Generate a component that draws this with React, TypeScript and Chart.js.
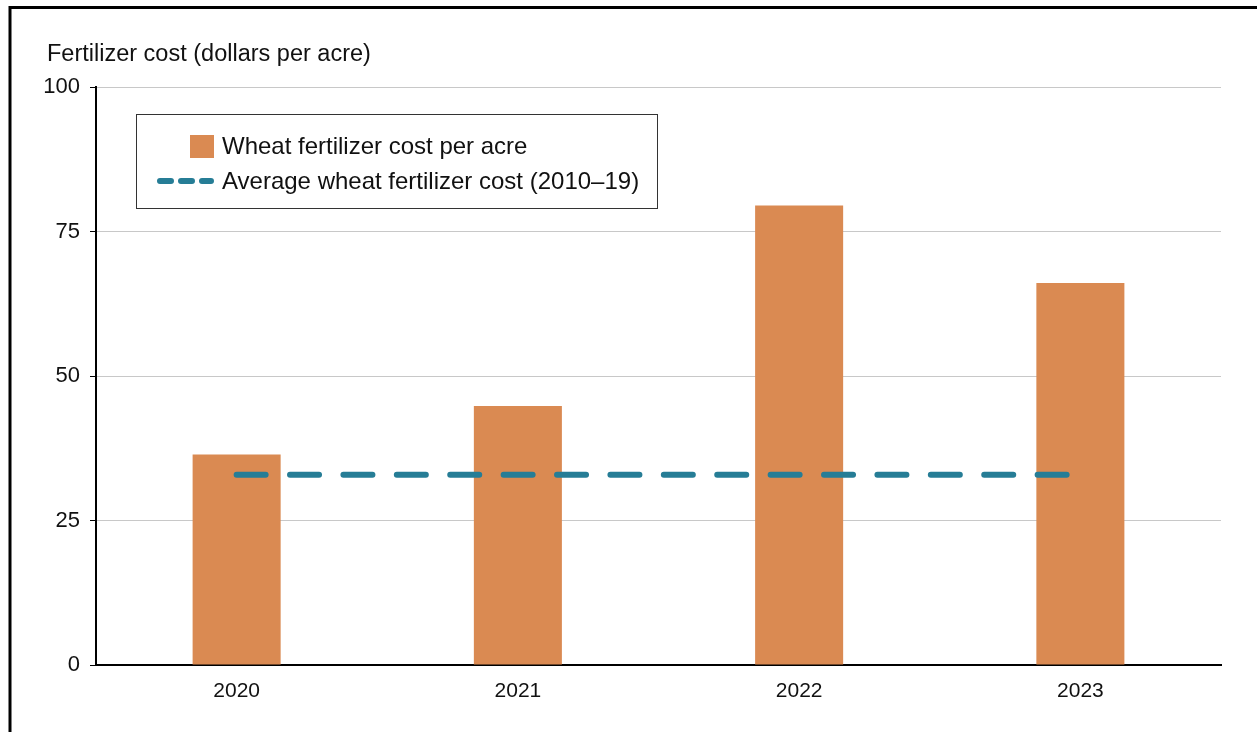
import React, { useEffect, useRef } from "react";
import { Chart, registerables } from "chart.js";

Chart.register(...registerables);

const categories = ["2020", "2021", "2022", "2023"];
const fertilizerCost = [36.4, 44.8, 79.5, 66.1];
const averageCost = [32.9, 32.9, 32.9, 32.9];
const yTicks = [0, 25, 50, 75, 100];
const axisTitle = "Fertilizer cost (dollars per acre)";
const barLabel = "Wheat fertilizer cost per acre";
const lineLabel = "Average wheat fertilizer cost (2010–19)";

const ORANGE = "#DA8A52";
const TEAL = "#267D96";
const FONT = "'Liberation Sans', Arial, sans-serif";

const decorPlugin = {
  id: "decor",
  beforeDraw(chart: any) {
    const ctx = chart.ctx;
    ctx.save();
    ctx.fillStyle = "#fff";
    ctx.fillRect(0, 0, chart.width, chart.height);
    ctx.restore();
  },
  afterDraw(chart: any) {
    const ctx = chart.ctx;
    ctx.save();
    // frame
    ctx.strokeStyle = "#000";
    ctx.lineWidth = 3;
    ctx.beginPath();
    ctx.moveTo(10, chart.height + 10);
    ctx.lineTo(10, 7.5);
    ctx.lineTo(chart.width + 10, 7.5);
    ctx.stroke();

    // axis title
    ctx.fillStyle = "#111";
    ctx.font = `23.5px ${FONT}`;
    ctx.textBaseline = "middle";
    ctx.textAlign = "left";
    ctx.fillText(axisTitle, 47, 55);

    // legend box
    ctx.strokeStyle = "#333";
    ctx.lineWidth = 1;
    ctx.strokeRect(136.5, 114.5, 521, 94);

    const ds = chart.data.datasets;
    ctx.font = `24px ${FONT}`;
    // bar item
    ctx.fillStyle = ds[1].backgroundColor;
    ctx.fillRect(190, 135, 24, 23);
    ctx.fillStyle = "#111";
    ctx.fillText(ds[1].label, 222, 147);
    // line item
    ctx.strokeStyle = ds[0].borderColor;
    ctx.lineWidth = 6;
    ctx.lineCap = "round";
    ctx.setLineDash([11, 10]);
    ctx.beginPath();
    ctx.moveTo(160, 181);
    ctx.lineTo(211, 181);
    ctx.stroke();
    ctx.setLineDash([]);
    ctx.fillText(ds[0].label, 222, 182);
    ctx.restore();
  },
};

export default function App() {
  const ref = useRef<HTMLCanvasElement | null>(null);

  useEffect(() => {
    if (!ref.current) return;
    const chart = new Chart(ref.current, {
      type: "bar",
      data: {
        labels: categories,
        datasets: [
          {
            type: "line",
            label: lineLabel,
            data: averageCost,
            borderColor: TEAL,
            borderWidth: 6,
            borderDash: [29, 24.4],
            borderCapStyle: "round",
            pointRadius: 0,
            fill: false,
            order: 0,
          } as any,
          {
            type: "bar",
            label: barLabel,
            data: fertilizerCost,
            backgroundColor: ORANGE,
            categoryPercentage: 1,
            barPercentage: 0.313,
            order: 1,
          },
        ],
      },
      options: {
        responsive: false,
        animation: false,
        layout: { padding: { left: 0, right: 36, top: 87, bottom: 0 } },
        plugins: {
          legend: { display: false },
          tooltip: { enabled: false },
          title: { display: false },
        },
        scales: {
          x: {
            grid: { display: false, drawTicks: false },
            border: { display: true, color: "#000", width: 2 },
            ticks: {
              color: "#111",
              font: { family: FONT, size: 21 },
              padding: 14,
            },
            afterFit(scale: any) {
              scale.height = 67;
            },
          },
          y: {
            min: 0,
            max: 100,
            afterBuildTicks(scale: any) {
              scale.ticks = yTicks.map((v) => ({ value: v }));
            },
            grid: {
              color: "#C8C8C8",
              lineWidth: 1,
              drawTicks: true,
              tickLength: 6,
              tickColor: "#000",
            },
            border: { display: true, color: "#000", width: 2 },
            ticks: {
              color: "#111",
              font: { family: FONT, size: 22 },
              padding: 10,
            },
            afterFit(scale: any) {
              scale.width = 96;
            },
          },
        },
      },
      plugins: [decorPlugin],
    });
    return () => chart.destroy();
  }, []);

  return (
    <div style={{ position: "fixed", left: 0, top: 0, width: 1257, height: 732 }}>
      <canvas ref={ref} width={1257} height={732} style={{ width: 1257, height: 732, display: "block" }} />
    </div>
  );
}
